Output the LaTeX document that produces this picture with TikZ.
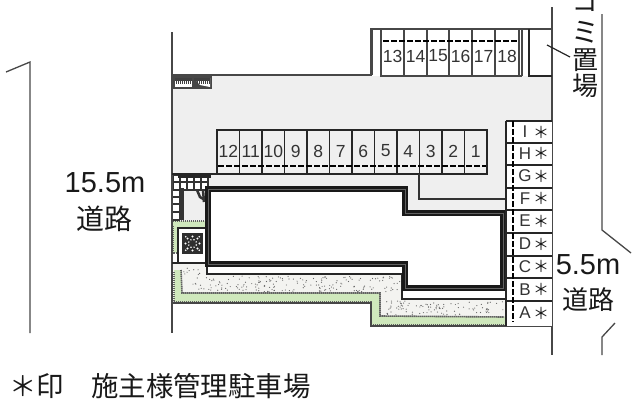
\documentclass[tikz,border=0pt]{standalone}
\usepackage{fontspec}
\setmainfont{Liberation Sans}
\newfontfamily\jpf{Noto Sans CJK JP}
\tikzset{
  ln/.style={draw=black!72,line width=1.3pt},
  lnk/.style={draw=black!85,line width=1.5pt},
  lab/.style={inner sep=0pt,font=\fontsize{17}{17}\selectfont,text=black!80},
  star/.style={inner sep=0pt,font=\jpf\fontsize{16}{16}\selectfont,text=black!90},
  num/.style={inner sep=0pt,font=\fontsize{17.5}{18}\selectfont,text=black!80},
  big/.style={inner sep=0pt,font=\fontsize{29}{29}\selectfont,text=black!90},
  jp/.style={inner sep=0pt,font=\jpf\fontsize{26}{26}\selectfont,text=black!90},
  dsh/.style={draw=black,line width=2.2pt,dash pattern=on 5.5pt off 2.5pt},
  edge/.style={draw=black!62,line width=1.6pt,dash pattern=on 1.4pt off .6pt},
  grit/.style={black!60},
  stepline/.style={black!80,line width=1.4pt},
}
\definecolor{gy}{HTML}{EFEFEF}
\definecolor{grn}{HTML}{CFE8BC}
\definecolor{spk}{HTML}{F3F3F0}
\begin{document}
\begin{tikzpicture}[x=1pt,y=-1pt]
\useasboundingbox (0,0) rectangle (640,400);
\clip (0,0) rectangle (640,400);
% gray yard
\fill[gy] (172,76) -- (552,76) -- (552,121) -- (506,121) -- (506,274) -- (208,274) -- (208,222) -- (172,222) -- cycle;
\fill[white] (208,188) rectangle (404,264);
\fill[white] (404,214) rectangle (503,288);
\fill[white] (207,264) rectangle (402,274);
\fill[white] (402,274) rectangle (506,299);
% planting and gravel
\fill[spk] (173,264) -- (207,264) -- (207,274) -- (402,274) -- (402,299) -- (506,299) -- (506,326) -- (371,326) -- (371,302) -- (173,302) -- cycle;
\fill[grn] (174,270) -- (181,270) -- (182,293) -- (380,293) -- (380,316) -- (506,317) -- (506,326) -- (371,326) -- (371,303) -- (174,303) -- cycle;
\draw[edge] (174,272) -- (174,302) -- (371,302) -- (371,325) -- (506,325);
\draw[edge] (181,270) -- (182,293) -- (380,293) -- (380,316) -- (504,317);
\pgfmathsetseed{7}
\foreach \i in {1,...,190}{
  \pgfmathsetmacro{\px}{183+rnd*217}
  \pgfmathsetmacro{\py}{267+rnd*25}
  \ifdim\px pt>207pt\ifdim\py pt<276pt\pgfmathsetmacro{\py}{276+rnd*16}\fi\fi
  \fill[grit] (\px,\py) circle (.6);
}
\foreach \i in {1,...,100}{
  \pgfmathsetmacro{\px}{383+rnd*120}
  \pgfmathsetmacro{\py}{301+rnd*14}
  \fill[grit] (\px,\py) circle (.6);
}
% planter by the corner
\fill[grn] (172,221) rectangle (208,228);
\fill[grn] (173,226) rectangle (178,253);
\draw[edge] (173,221) -- (206,221);
\draw[edge] (173,226) -- (173,253) -- (177,253);
\fill[white] (178,228) rectangle (207,263);
\draw[lnk] (178,262) -- (178,228) -- (207,228);
\fill[black!82] (182,233) rectangle (203,254);
\foreach \a in {0,45,...,315}{\fill[white] (192.5,243.5) ++(\a:7) circle (1.1);\fill[white] (192.5,243.5) ++(\a+22:4) circle (.8);}
\foreach \a in {45,135,225,315}{\fill[white] (192.5,243.5) ++(\a:9.5) circle (.9);}
% entrance steps
\fill[white] (173,175) rectangle (208,190);
\fill[white] (173,175) rectangle (181,220);
\foreach \x in {173,180,187,194,201,208}{\draw[stepline] (\x,175) -- (\x,190);}
\foreach \y in {175,182,190}{\draw[stepline] (173,\y) -- (208,\y);}
\foreach \y in {190,197,204,212,220}{\draw[stepline] (173,\y) -- (180,\y);}
\draw[stepline] (180,190) -- (180,220);
\draw[black!85,line width=3.5pt] (178,176) -- (211,176);
\draw[black!80,line width=3pt] (182,188) -- (182,220);
\draw[black!80,line width=2.5pt] (197,190) -- (200,197) -- (205,200);
\draw[black!80,line width=2.5pt] (203,190) -- (204,202);
% entrance mat at top left
\fill[black!72] (173,76) rectangle (212,89);
\fill[white] (175,78) -- (192,78) -- (192,87) -- (175,87) -- cycle;
\fill[white] (194,78) -- (210,78) -- (210,87) -- (200,85) -- cycle;
\fill[black!75] (175,78) rectangle (192,81);
\fill[black!75] (194,78) rectangle (210,81);
\foreach \x in {176,178,...,190}{\draw[black!75,line width=.8pt] (\x,80) -- (\x,84);}
\foreach \x in {197,199,...,209}{\draw[black!75,line width=.8pt] (\x,80) -- (\x,84);}
% outlines
\draw[ln] (172,32) -- (172,333);
\draw[ln] (172,75) -- (371,75) -- (371,29) -- (552,29);
\draw[ln] (552,7) -- (552,355);
\draw[lnk] (172,174) -- (217,174);
\draw[lnk] (172,263) -- (207,263);
\draw[lnk] (207,264) -- (207,274) -- (402,274) -- (402,299) -- (506,299);
\draw[ln,line width=1.5pt] (173,303) -- (371,303) -- (371,326) -- (552,326);
\draw[ln] (6,72) -- (30,62) -- (30,333);
\draw[ln] (602,14) -- (602,230) -- (631,253);
\draw[ln] (602,355) -- (602,337) -- (615,323);
% upper parking
\draw[ln] (372,29) -- (372,75);
\draw[ln] (381,29) -- (381,76) -- (522,76) (519,29) -- (519,76) (522,29) -- (522,76);
\draw[lnk] (529,29) -- (529,76) -- (552,76);
\foreach \x in {404,427,449,472,495}{\draw[ln] (\x,29) -- (\x,76);}
\foreach \x/\t [count=\k] in {392.5/13,415.5/14,438/15,460.5/16,483.5/17,507/18}{
  \node[num] (u\k) at (\x,56) {\t};
}
\draw[dsh] (383,41) -- (517,41);
\coordinate (leadA) at (547,45);
\coordinate (leadB) at (570,57);
\draw[black!85,line width=1.2pt] (leadA) -- (leadB);
% lower parking
\draw[lnk] (217,130) rectangle (487,174);
\foreach \i in {1,...,11}{\draw[lnk] ({217+\i*22.5},130) -- ({217+\i*22.5},174);}
\foreach \t [count=\k] in {12,11,10,9,8,7,6,5,4,3,2,1}{
  \node[num] (p\t) at ({217+(\k-.5)*22.5},151) {\t};
}
\draw[dsh] (218,166) -- (486,166);
\coordinate (branch) at (419,174);
\coordinate (bend) at (419,199);
\coordinate (tbl) at (506,199);
\draw[ln,draw=black!80] (branch) -- (bend) -- (tbl);
% building
\draw[draw=black!90,line width=6pt,miter limit=10] (208,189) -- (405,189) -- (405,213) -- (503,213) -- (503,288) -- (405,288) -- (405,264) -- (208,264) -- cycle;
\draw[draw=black!62,line width=.7pt] (208,189) -- (405,189) -- (405,213) -- (503,213) -- (503,288) -- (405,288) -- (405,264) -- (208,264) -- cycle;
% right table
\fill[white] (507,121) rectangle (552,326);
\draw[lnk] (506,121) -- (552,121);
\draw[lnk] (506,121) -- (506,326);
\foreach \y in {143,165,188,210,233,256,278,301}{\draw[lnk] (506,\y) -- (552,\y);}
\draw[dsh] (513,121) -- (513,322);
\foreach \t/\y in {I/132,H/153.5,G/176,F/198.5,E/221,D/244,C/266.5,B/289.5,A/313}{
  \node[lab] (r\t) at (525,\y) {\t};
  \node[star] (s\t) at (541,\y) {＊};
}
% labels
\node[big] (w1) at (105,183) {15.5m};
\node[jp,font=\jpf\fontsize{28}{28}\selectfont] (w2) at (104,219) {道路};
\node[big] (w3) at (588,265) {5.5m};
\node[jp] (w4) at (588,300) {道路};
\node[jp] (g1) at (585,0) {ゴ};
\node[jp,font=\jpf\fontsize{28}{28}\selectfont] (g2) at (585,32) {ミ};
\node[jp] (g3) at (585,60) {置};
\node[jp] (g4) at (585,86) {場};
\node[inner sep=0pt,anchor=west,font=\jpf\fontsize{27.4}{28}\selectfont,text=black!90] (note) at (9,386) {＊印　施主様管理駐車場};
\end{tikzpicture}
\end{document}
